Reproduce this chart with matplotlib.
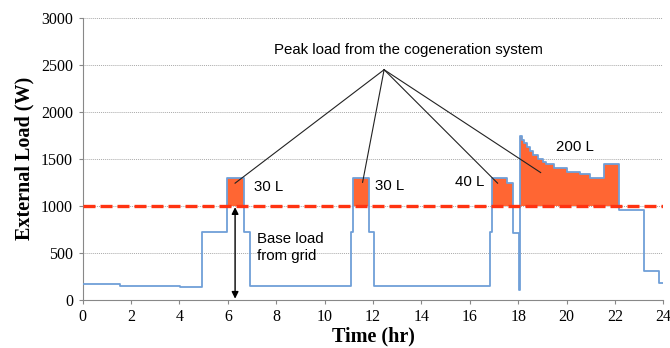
import numpy as np
import matplotlib
matplotlib.use("Agg")
import matplotlib.pyplot as plt

# step times (hr) and external load (W)
t_hr = [0, 1.54, 4.02, 4.92, 5.95, 6.67, 6.91, 11.11, 11.18, 11.84, 12.04,
        16.83, 16.93, 17.55, 17.77, 18.03, 18.07, 18.15, 18.25, 18.36, 18.48,
        18.62, 18.83, 19.01, 19.17, 19.48, 20.02, 20.55, 20.96, 21.54, 22.17,
        23.19, 23.81, 24.0]
load_w = [170, 148, 138, 725, 1300, 720, 142, 720, 1300, 720, 142,
          720, 1300, 1240, 710, 100, 1745, 1705, 1670, 1630, 1585,
          1540, 1500, 1465, 1440, 1400, 1360, 1335, 1300, 1450, 955,
          300, 175, 175]
base_limit = 1000

# annotation pointers
apex = (12.46, 2450)
pointer_ends = [(6.3, 1241), (11.57, 1250), (17.15, 1241), (18.93, 1354)]
tank_labels = ["30 L", "30 L", "40 L", "200 L"]
tank_pos = [(7.1, 1200), (12.1, 1210), (15.4, 1250), (19.55, 1630)]

t = np.array(t_hr)
w = np.array(load_w)

fig = plt.figure(figsize=(6.7, 3.48), dpi=100)
ax = fig.add_axes([0.1234, 0.139, 0.8666, 0.809])

# orange peak area above grid limit
ax.fill_between(t, base_limit, np.maximum(w, base_limit), step="post",
                color="#ff6633", linewidth=0, zorder=2)
ax.step(t, w, where="post", color="#6f9fd8", lw=1.3, zorder=3)
ax.axhline(base_limit, color="#ff3311", lw=2.4, dashes=(3.6, 1.5), zorder=4)

for x_end, y_end in pointer_ends:
    ax.plot([apex[0], x_end], [apex[1], y_end], color="#222222", lw=0.8, zorder=5)

ax.annotate("", xy=(6.3, 10), xytext=(6.3, 985),
            arrowprops=dict(arrowstyle="<|-|>", color="black", lw=1.0,
                            mutation_scale=10, shrinkA=0, shrinkB=0), zorder=5)

sans = "Liberation Sans"
ax.text(13.45, 2660, "Peak load from the cogeneration system", ha="center",
        va="center", fontsize=10.8, family=sans)
for lab, (x, y) in zip(tank_labels, tank_pos):
    ax.text(x, y, lab, ha="left", va="center", fontsize=10.8, family=sans)
ax.text(7.2, 555, "Base load\nfrom grid", ha="left", va="center",
        fontsize=10.8, family=sans, linespacing=1.2)

ax.set_xlim(0, 24)
ax.set_ylim(0, 3000)
ax.set_xticks(range(0, 25, 2))
ax.set_yticks(range(0, 3001, 500))
for y in range(500, 3001, 500):
    ax.axhline(y, color="#aaaaaa", lw=0.7, ls=(0, (1, 1)), zorder=1)

for s in ["top", "right"]:
    ax.spines[s].set_visible(False)
for s in ["left", "bottom"]:
    ax.spines[s].set_color("#888888")
ax.tick_params(direction="out", length=3, color="#888888", labelsize=11.5,
               pad=4)
for lbl in ax.get_xticklabels() + ax.get_yticklabels():
    lbl.set_family("Liberation Serif")

ax.set_xlabel("Time (hr)", family="Liberation Serif", fontweight="bold",
              fontsize=14.5, labelpad=1)
ax.set_ylabel("External Load (W)", family="Liberation Serif",
              fontweight="bold", fontsize=14.5, labelpad=5)

fig.savefig("out.png", dpi=100)
